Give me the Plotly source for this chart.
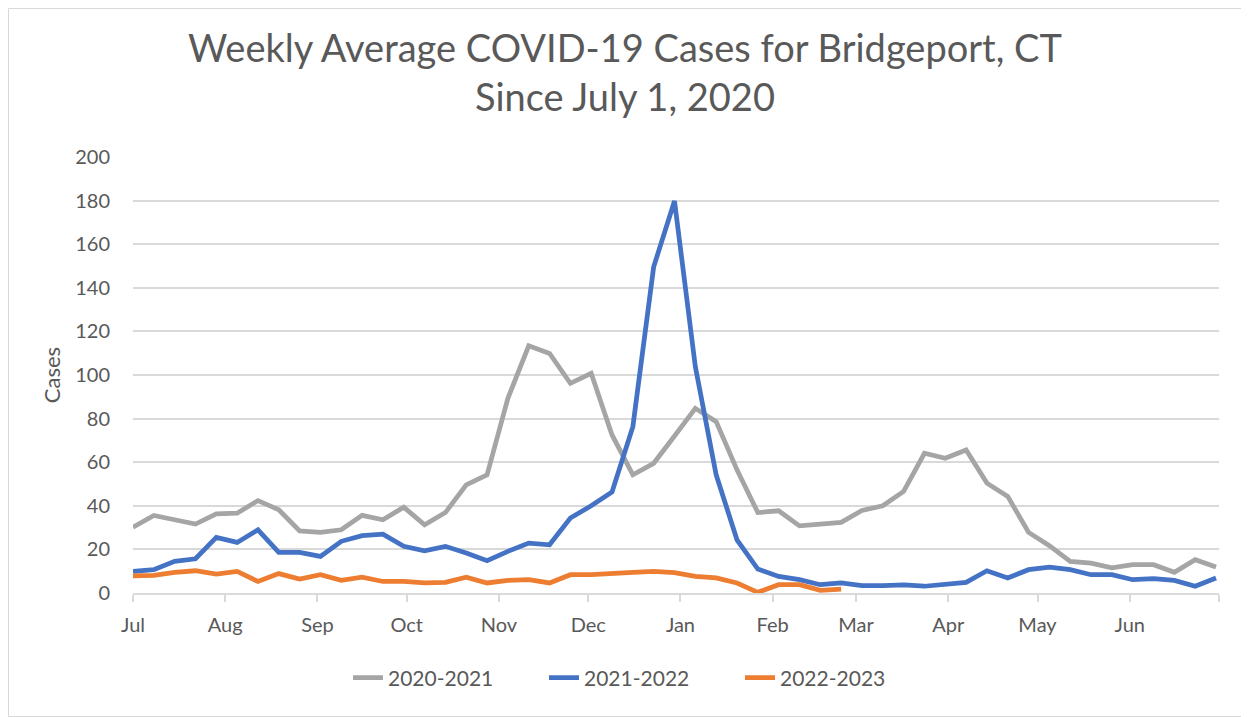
import pandas as pd
import plotly.graph_objects as go

# Weekly x positions (season week starting dates, mapped to the 2020-2021 season)
weeks = pd.date_range("2020-07-01", periods=53, freq="7D")

season_2020_2021 = [30.2, 35.6, 33.6, 31.6, 36.3, 36.6, 42.4, 38.2, 28.5, 27.8,
                    29.0, 35.6, 33.6, 39.4, 31.3, 36.9, 49.6, 54.2, 89.3, 113.4,
                    109.9, 96.2, 100.8, 72.5, 54.2, 59.5, 72.0, 84.7, 78.6, 56.5,
                    36.9, 37.7, 30.8, 31.6, 32.4, 37.9, 40.0, 46.6, 64.1, 61.8,
                    65.6, 50.4, 44.3, 27.8, 21.7, 14.5, 13.7, 11.5, 13.0, 13.0,
                    9.5, 15.3, 11.9]
season_2021_2022 = [9.9, 10.7, 14.5, 15.7, 25.5, 23.2, 29.0, 18.6, 18.6, 16.8,
                    23.7, 26.3, 27.0, 21.4, 19.4, 21.4, 18.3, 14.8, 19.1, 22.9,
                    22.1, 34.4, 40.0, 46.3, 76.3, 149.6, 179.8, 103.8, 54.2, 24.4,
                    11.0, 7.6, 6.1, 3.8, 4.6, 3.4, 3.4, 3.7, 3.1, 3.8,
                    4.9, 10.2, 6.9, 10.7, 11.9, 10.7, 8.4, 8.4, 6.1, 6.6,
                    5.8, 3.1, 6.9]
season_2022_2023 = [7.9, 8.1, 9.5, 10.2, 8.7, 9.9, 5.3, 8.9, 6.4, 8.4,
                    5.8, 7.3, 5.3, 5.3, 4.6, 4.9, 7.3, 4.6, 5.8, 6.1,
                    4.6, 8.4, 8.4, 8.7, 9.5, 9.9, 9.3, 7.6, 6.9, 4.6,
                    0.3, 3.8, 3.8, 1.2, 1.8]

series_names = ["2020-2021", "2021-2022", "2022-2023"]
series_colors = ["#A5A5A5", "#4472C4", "#ED7D31"]
month_ticks = ["2020-07-01", "2020-08-01", "2020-09-01", "2020-10-01", "2020-11-01",
               "2020-12-01", "2021-01-01", "2021-02-01", "2021-03-01", "2021-04-01",
               "2021-05-01", "2021-06-01", "2021-07-01"]
month_labels = ["Jul", "Aug", "Sep", "Oct", "Nov", "Dec", "Jan", "Feb", "Mar",
                "Apr", "May", "Jun", ""]

FONT = "Lato, Carlito, 'Open Sans', sans-serif"
TXT = "#595959"

# page has an 8px body margin: figure is placed at (8, 8)
W, H = 1241, 709
L, R, T, B = 125, 30, 149, 124
PW, PH = W - L - R, H - T - B

fig = go.Figure()
for name, vals, col in zip(series_names,
                           [season_2020_2021, season_2021_2022, season_2022_2023],
                           series_colors):
    fig.add_trace(go.Scatter(x=weeks[:len(vals)], y=vals, mode="lines", name=name,
                             line=dict(color=col, width=4.75, shape="linear"),
                             cliponaxis=False))

fig.update_layout(
    width=W, height=H, autosize=False,
    paper_bgcolor="white", plot_bgcolor="white",
    margin=dict(l=L, r=R, t=T, b=B, autoexpand=False),
    font=dict(family=FONT, color=TXT),
    title=dict(text="Weekly Average COVID-19 Cases for Bridgeport, CT<br>Since July 1, 2020",
               x=(625 - 8) / W, xref="container", xanchor="center",
               y=1 - 54 / H, yref="container", yanchor="middle",
               font=dict(family=FONT, size=38, color=TXT)),
    showlegend=True,
    legend=dict(orientation="h", x=(642 - 8 - L) / PW, xanchor="center",
                y=-85 / PH, yanchor="middle",
                font=dict(family=FONT, size=21, color=TXT),
                entrywidth=151, entrywidthmode="pixels",
                traceorder="normal"),
    xaxis=dict(type="date", range=["2020-07-01", "2021-07-01"],
               tickvals=month_ticks, ticktext=month_labels, tickangle=0,
               ticks="outside", ticklen=7, tickcolor="#D9D9D9", tickwidth=1.5,
               showline=True, linecolor="#D9D9D9", linewidth=1.5,
               showgrid=False, zeroline=False,
               tickfont=dict(family=FONT, size=20, color=TXT),
               ticklabelstandoff=6),
    yaxis=dict(range=[0, 200], dtick=20, showgrid=True, gridcolor="#D9D9D9",
               gridwidth=1.5, zeroline=False, showline=False, ticks="",
               tickfont=dict(family=FONT, size=20, color=TXT),
               ticklabelstandoff=22,
               title=dict(text="Cases", font=dict(family=FONT, size=22, color=TXT),
                          standoff=8)),
    shapes=[dict(type="rect", xref="paper", yref="paper",
                 x0=-(L - 0.5) / PW, x1=1 + (R - 0.5) / PW,
                 y0=-(B - 0.5) / PH, y1=1 + (T - 0.5) / PH,
                 line=dict(color="#D9D9D9", width=1))],
)

fig.write_html("out.html")
